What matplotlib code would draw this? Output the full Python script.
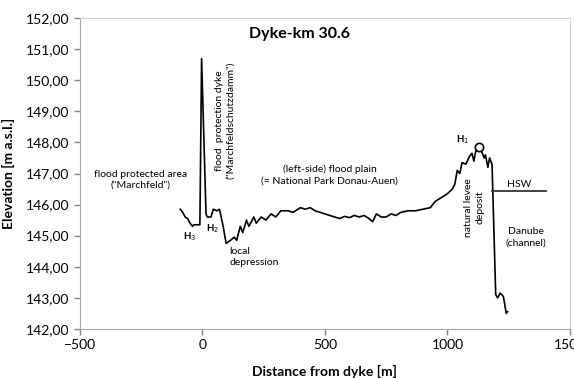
import matplotlib
matplotlib.use('Agg')
import matplotlib.pyplot as plt
from matplotlib.ticker import FuncFormatter

plt.rcParams['font.family'] = ['Lato', 'DejaVu Sans']

# profile: distance from dyke [m], elevation [m a.s.l.]
dist = [-90, -80, -70, -60, -50, -40, -35, -10, -3, 15, 20, 35,
        45, 60, 70, 85, 97, 115, 130, 140, 155, 165, 180, 190, 210, 220,
        240, 260, 280, 300, 320, 350, 370, 400, 420, 440, 460, 480, 500,
        520, 540, 560, 580, 600, 620, 640, 660, 680, 695, 710, 730, 750,
        770, 790, 810, 840, 870, 900, 930, 950, 970, 1000, 1020, 1030,
        1040, 1050, 1060, 1075, 1090, 1100, 1108, 1115, 1127, 1140, 1150,
        1155, 1165, 1172, 1182, 1197, 1205, 1215, 1228, 1240, 1245]
elev = [145.85, 145.75, 145.6, 145.55, 145.4, 145.3, 145.35, 145.35, 150.7, 145.7, 145.6, 145.6,
        145.85, 145.8, 145.85, 145.3, 144.75, 144.85, 144.95, 144.85, 145.3, 145.1, 145.5, 145.3, 145.6, 145.4,
        145.6, 145.5, 145.7, 145.6, 145.8, 145.8, 145.75, 145.9, 145.85, 145.9, 145.8, 145.75, 145.7,
        145.65, 145.6, 145.55, 145.62, 145.58, 145.65, 145.6, 145.65, 145.55, 145.45, 145.7, 145.6, 145.6,
        145.7, 145.65, 145.75, 145.8, 145.8, 145.85, 145.9, 146.1, 146.2, 146.35, 146.5, 146.65,
        147.1, 147.0, 147.35, 147.3, 147.55, 147.65, 147.4, 147.7, 147.85, 147.7, 147.5,
        147.6, 147.2, 147.5, 147.3, 143.1, 143.0, 143.15, 143.05, 142.5, 142.55]

h1 = (1127, 147.85)
hsw_x = [1183, 1402]
hsw_y = [146.45, 146.45]

fig = plt.figure(figsize=(5.74, 3.78), dpi=100)
ax = fig.add_axes([0.139, 0.130, 0.854, 0.822])

ax.plot(dist, elev, color='black', lw=1.2)
ax.plot(hsw_x, hsw_y, color='#333333', lw=1.3)
ax.plot(*h1, marker='o', ms=6, mfc='white', mec='black', mew=1.2)

ax.set_xlim(-500, 1500)
ax.set_ylim(142, 152)
ax.set_xticks([-500, 0, 500, 1000, 1500])
ax.set_yticks(range(142, 153))
ax.yaxis.set_major_formatter(FuncFormatter(lambda v, p: f'{v:.2f}'.replace('.', ',')))
ax.tick_params(labelsize=10, colors='#888888', labelcolor='black', length=4, width=1)

for s in ['top', 'right']:
    ax.spines[s].set_color('#d0d0d0')
for s in ['left', 'bottom']:
    ax.spines[s].set_color('#a6a6a6')

ax.set_xlabel('Distance from dyke [m]', fontsize=10, fontweight='bold', labelpad=10)
ax.set_ylabel('Elevation [m a.s.l.]', fontsize=10, fontweight='bold', labelpad=8)

ax.text(398, 151.5, 'Dyke-km 30.6', fontsize=11.5, fontweight='bold', ha='center', va='center')

fs = 7.5
ax.text(-252, 146.8, 'flood protected area\n("Marchfeld")', fontsize=fs, ha='center', va='center',
        linespacing=1.3)
ax.text(93, 148.7, 'flood  protection dyke\n("Marchfeldschutzdamm")', fontsize=fs, ha='center',
        va='center', rotation=90, linespacing=1.3)
ax.text(520, 146.95, '(left-side) flood plain\n(= National Park Donau-Auen)', fontsize=fs,
        ha='center', va='center', linespacing=1.3)
ax.text(110, 144.3, 'local\ndepression', fontsize=fs, ha='left', va='center', linespacing=1.3)
ax.text(1110, 145.9, 'natural levee\ndeposit', fontsize=fs, ha='center', va='center',
        rotation=90, linespacing=1.3)
ax.text(1293, 146.65, 'HSW', fontsize=fs, ha='center', va='center')
ax.text(1321, 144.95, 'Danube\n(channel)', fontsize=fs, ha='center', va='center', linespacing=1.3)

ax.text(-52, 144.98, 'H$_3$', fontsize=7, fontweight='bold', ha='center', va='center')
ax.text(40, 145.22, 'H$_2$', fontsize=7, fontweight='bold', ha='center', va='center')
ax.text(1061, 148.1, 'H$_1$', fontsize=7, fontweight='bold', ha='center', va='center')

fig.savefig('out.png', dpi=100)
